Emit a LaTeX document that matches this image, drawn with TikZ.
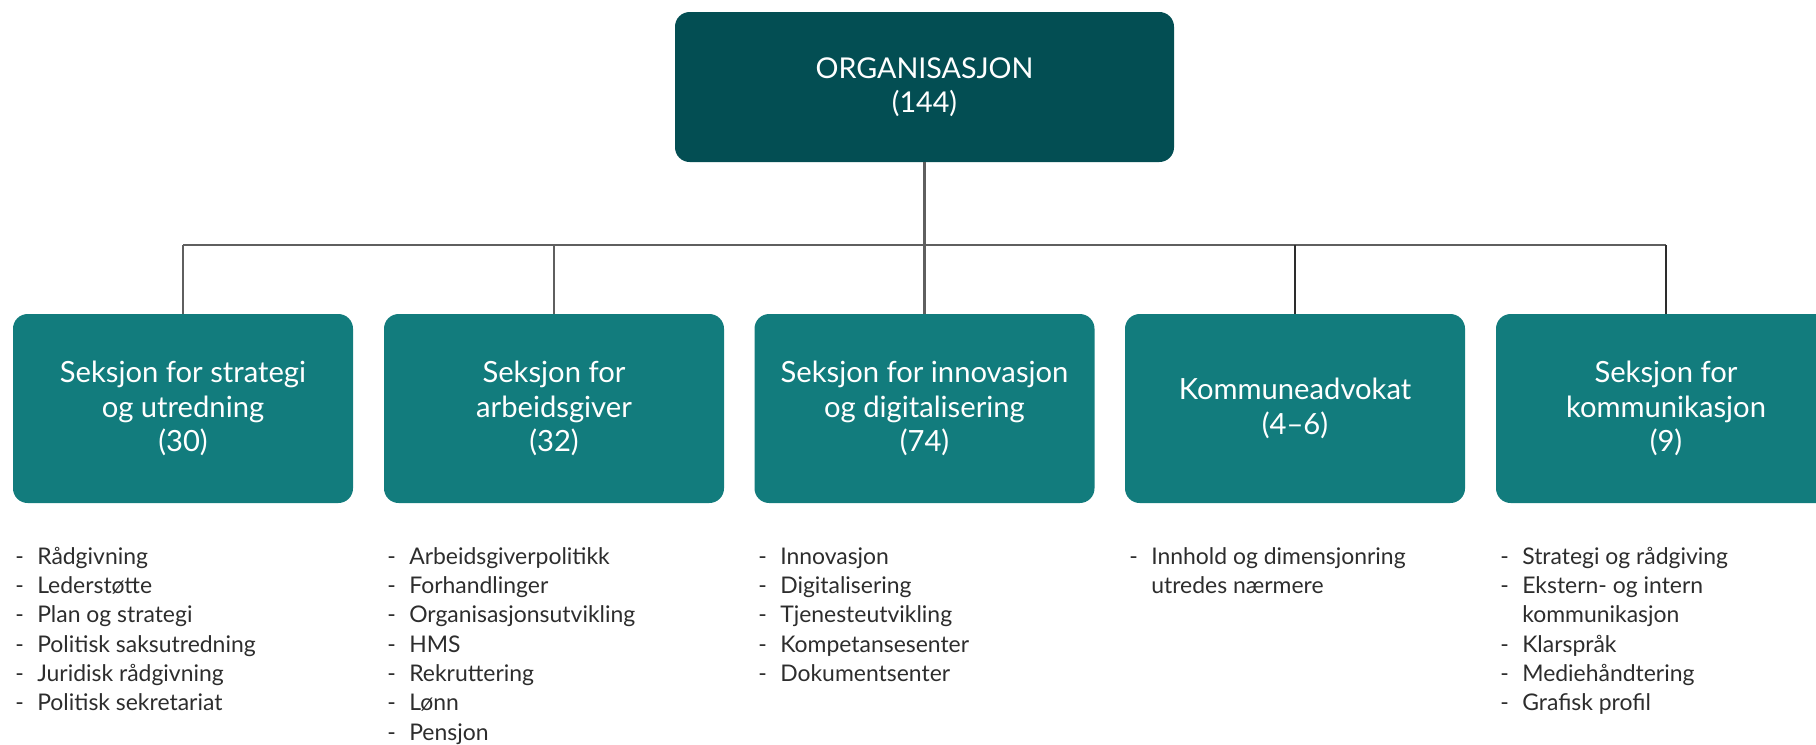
\documentclass[tikz,border=0pt]{standalone}
\usepackage{fontspec}
\setmainfont{Lato}
\definecolor{topc}{RGB}{3,78,83}
\definecolor{secc}{RGB}{18,124,125}
\definecolor{linec}{RGB}{95,95,95}
\definecolor{darkline}{RGB}{45,45,45}
\definecolor{listc}{RGB}{45,45,45}
\newcommand\dsh{\makebox[16.5pt][l]{-}}
\newcommand\cnt{\hspace*{16.5pt}}
\tikzset{
  topbox/.style={fill=topc, rounded corners=11pt, minimum width=374.25pt, minimum height=112.5pt,
    inner sep=0pt, text=white, align=center, font=\fontsize{21.5}{25.5}\selectfont},
  secbox/.style={fill=secc, rounded corners=11pt, minimum width=255pt, minimum height=141.75pt,
    inner sep=0pt, text=white, align=center, font=\fontsize{21.9}{26}\selectfont},
  listtxt/.style={anchor=base west, inner sep=0pt, text=listc, font=\fontsize{17.2}{22}\selectfont},
  conn/.style={draw=linec, line width=2pt},
  connd/.style={draw=darkline, line width=2pt}
}
\begin{document}
\begin{tikzpicture}[x=0.75pt,y=-0.75pt]
\useasboundingbox (0,0) rectangle (1816,744);
\clip (0,0) rectangle (1816,744);
\node[topbox] (top) at (924.5,87) {ORGANISASJON\\(144)};
\node[secbox] (b1) at (183,408.5) {Seksjon for strategi\\og utredning\\(30)};
\node[secbox] (b2) at (554,408.5) {Seksjon for\\arbeidsgiver\\(32)};
\node[secbox] (b3) at (924.5,408.5) {Seksjon for innovasjon\\og digitalisering\\(74)};
\node[secbox] (b4) at (1295,408.5) {Kommuneadvokat\\(4--6)};
\node[secbox] (b5) at (1666,408.5) {Seksjon for\\kommunikasjon\\(9)};
\coordinate (hl) at (183,245);
\coordinate (hr) at (1666,245);
\draw[conn] (top.south) -- (top.south |- hl);
\draw[conn] (hl) -- (hr);
\draw[conn] (b1.north |- hl) -- (b1.north);
\draw[conn] (b2.north |- hl) -- (b2.north);
\draw[conn] (b3.north |- hl) -- (b3.north);
\draw[connd] (b4.north |- hl) -- (b4.north);
\draw[connd] (b5.north |- hl) -- (b5.north);
\node[listtxt] (l1) at (15,564) {\begin{tabular}[t]{@{}l@{}}
\dsh Rådgivning\\
\dsh Lederstøtte\\
\dsh Plan og strategi\\
\dsh Politisk saksutredning\\
\dsh Juridisk rådgivning\\
\dsh Politisk sekretariat
\end{tabular}};
\node[listtxt] (l2) at (387,564) {\begin{tabular}[t]{@{}l@{}}
\dsh Arbeidsgiverpolitikk\\
\dsh Forhandlinger\\
\dsh Organisasjonsutvikling\\
\dsh HMS\\
\dsh Rekruttering\\
\dsh Lønn\\
\dsh Pensjon
\end{tabular}};
\node[listtxt] (l3) at (758,564) {\begin{tabular}[t]{@{}l@{}}
\dsh Innovasjon\\
\dsh Digitalisering\\
\dsh Tjenesteutvikling\\
\dsh Kompetansesenter\\
\dsh Dokumentsenter
\end{tabular}};
\node[listtxt] (l4) at (1129,564) {\begin{tabular}[t]{@{}l@{}}
\dsh Innhold og dimensjonring\\
\cnt utredes nærmere
\end{tabular}};
\node[listtxt] (l5) at (1500,564) {\begin{tabular}[t]{@{}l@{}}
\dsh Strategi og rådgiving\\
\dsh Ekstern- og intern\\
\cnt kommunikasjon\\
\dsh Klarspråk\\
\dsh Mediehåndtering\\
\dsh Grafisk profil
\end{tabular}};
\end{tikzpicture}
\end{document}
